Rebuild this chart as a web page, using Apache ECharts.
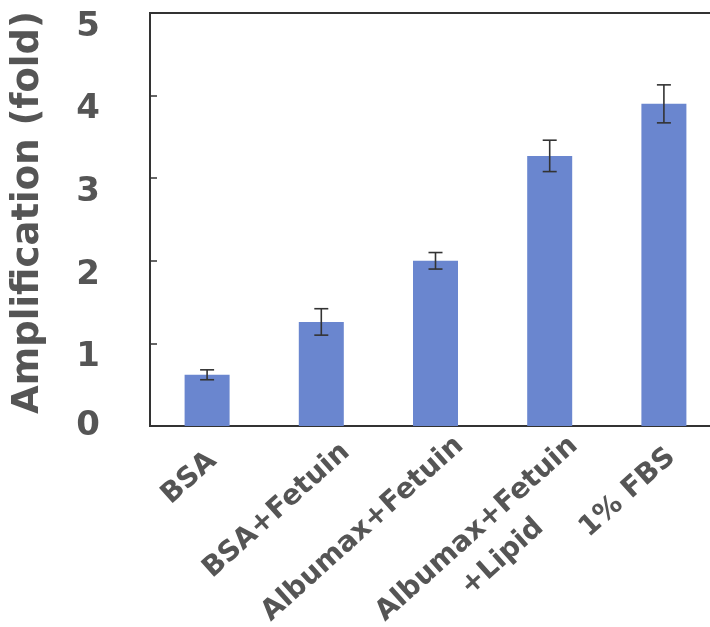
<!DOCTYPE html>
<html>
<head>
<meta charset="utf-8">
<script src="https://cdn.jsdelivr.net/npm/echarts@6/dist/echarts.min.js"></script>
<style>html,body{margin:0;padding:0;background:#fff}#c{width:710px;height:627px}</style>
</head>
<body>
<div id="c"></div>
<script>
const categories = ['BSA', 'BSA+Fetuin', 'Albumax+Fetuin', 'Albumax+Fetuin\n+Lipid', '1% FBS'];
const values = [0.62, 1.26, 2.00, 3.27, 3.90];
const errors = [0.06, 0.16, 0.10, 0.19, 0.23];
const yTicks = [0, 1, 2, 3, 4, 5];
const yTitle = 'Amplification (fold)';

const chart = echarts.init(document.getElementById('c'), null, {renderer: 'canvas'});
const FONT = 'DejaVu Sans';
const TXT = '#555555';
const XFS = 28;
const errData = values.map((v, i) => [i, v - errors[i], v + errors[i]]);

// per-label placement nudges (padding in the rotated text frame)
const labelPad = [[3, 24, 0, 0], [15, 4, 0, 0], [5, 0, 0, 0], [43, 0, 0, 0], [0, 20, 0, 0]];
const base = {fontFamily: FONT, fontWeight: 'bold', fontSize: XFS, color: TXT};
const xRich = {c: Object.assign({}, base, {padding: [10, 0, 0, 0], align: 'center'})};
labelPad.forEach((p, i) => { xRich['t' + i] = Object.assign({}, base, {padding: p}); });

chart.setOption({
  animation: false,
  backgroundColor: '#fff',
  grid: [
    {left: 150, top: 13, bottom: 201, width: 571, show: true, borderColor: '#333', borderWidth: 2,
     containLabel: false, outerBoundsMode: 'none'},
    {left: 172.5, top: 13, bottom: 201, width: 571, show: false,
     containLabel: false, outerBoundsMode: 'none'}
  ],
  xAxis: [
    {
      type: 'category', gridIndex: 0, data: categories,
      axisLine: {lineStyle: {color: '#333', width: 2}},
      axisTick: {show: false},
      axisLabel: {show: false}
    },
    {
      type: 'category', gridIndex: 1, data: categories,
      axisLine: {show: false},
      axisTick: {show: false},
      axisLabel: {
        rotate: 42, interval: 0, margin: 14,
        formatter: (v, i) => {
          const parts = v.split('\n');
          if (parts.length > 1) return '{t' + i + '|' + parts[0] + '}\n{c|' + parts[1] + '}';
          return '{t' + i + '|' + v + '}';
        },
        rich: xRich
      }
    }
  ],
  yAxis: [
    {
      type: 'value', gridIndex: 0, min: yTicks[0], max: yTicks[yTicks.length - 1], interval: 1,
      name: yTitle, nameLocation: 'middle', nameRotate: 90, nameGap: 103,
      nameTextStyle: {fontFamily: FONT, fontWeight: 'bold', fontSize: 37, color: TXT, padding: [0, 0, 0, 14]},
      axisLine: {show: true, lineStyle: {color: '#333', width: 2}},
      axisTick: {show: true, inside: true, length: 7, lineStyle: {color: '#333', width: 1.5}},
      splitLine: {show: false},
      axisLabel: {
        margin: 50,
        formatter: v => v === 0 ? '{z|0}' : '{n|' + v + '}',
        rich: {
          z: {fontFamily: FONT, fontWeight: 'bold', fontSize: 34, color: TXT},
          n: {fontFamily: FONT, fontWeight: 'bold', fontSize: 34, color: TXT, padding: [28, 0, 0, 0]}
        }
      }
    },
    {
      type: 'value', gridIndex: 1, min: 0, max: 5, show: false
    }
  ],
  series: [
    {
      type: 'bar', xAxisIndex: 0, yAxisIndex: 0, data: values, barWidth: 45,
      itemStyle: {color: '#6a86cf'}
    },
    {
      type: 'custom', xAxisIndex: 0, yAxisIndex: 0, data: errData, z: 10,
      renderItem: (params, api) => {
        const x = api.value(0);
        const lo = api.coord([x, api.value(1)]);
        const hi = api.coord([x, api.value(2)]);
        const w = 7;
        const st = {stroke: '#333', lineWidth: 1.6};
        return {type: 'group', children: [
          {type: 'line', shape: {x1: lo[0], y1: lo[1], x2: hi[0], y2: hi[1]}, style: st},
          {type: 'line', shape: {x1: hi[0] - w, y1: hi[1], x2: hi[0] + w, y2: hi[1]}, style: st},
          {type: 'line', shape: {x1: lo[0] - w, y1: lo[1], x2: lo[0] + w, y2: lo[1]}, style: st}
        ]};
      }
    }
  ]
});
</script>
</body>
</html>
